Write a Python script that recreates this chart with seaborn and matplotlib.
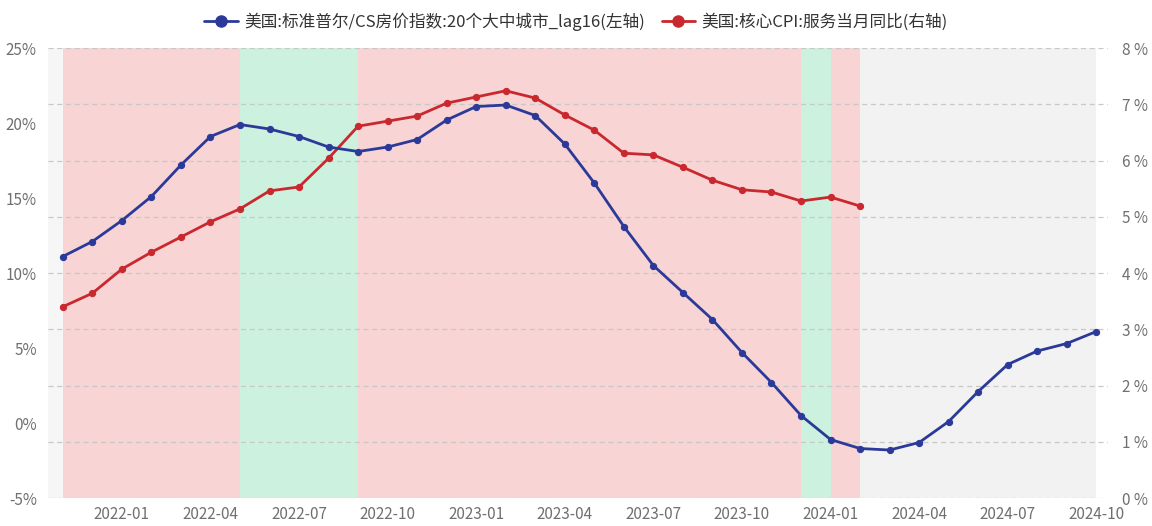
import numpy as np
import pandas as pd
import matplotlib.pyplot as plt
import seaborn as sns

# monthly data, 2021-11 .. 2024-10
months = pd.period_range("2021-11", "2024-10", freq="M").strftime("%Y-%m").tolist()

cs_index_lag16 = [11.1, 12.1, 13.5, 15.1, 17.2, 19.1, 19.9, 19.6, 19.1, 18.4, 18.1, 18.4,
                  18.9, 20.2, 21.1, 21.2, 20.5, 18.6, 16.0, 13.1, 10.5, 8.7, 6.9, 4.7,
                  2.7, 0.5, -1.1, -1.7, -1.8, -1.3, 0.1, 2.1, 3.9, 4.8, 5.3, 6.1]

core_cpi_services = [3.40, 3.64, 4.07, 4.37, 4.64, 4.91, 5.14, 5.46, 5.53, 6.04, 6.61, 6.70,
                     6.79, 7.02, 7.13, 7.24, 7.11, 6.81, 6.54, 6.13, 6.10, 5.88, 5.65, 5.48,
                     5.44, 5.28, 5.35, 5.19]

# shaded regimes: (start month, end month, kind)
regimes = [("2021-11", "2022-05", "up"), ("2022-05", "2022-09", "down"),
           ("2022-09", "2023-12", "up"), ("2023-12", "2024-01", "down"),
           ("2024-01", "2024-02", "up"), ("2024-02", "2024-10", "none")]
regime_colors = {"up": "#f8d4d5", "down": "#ccf2df", "none": "#f2f2f2"}

tick_months = ["2022-01", "2022-04", "2022-07", "2022-10", "2023-01", "2023-04",
               "2023-07", "2023-10", "2024-01", "2024-04", "2024-07", "2024-10"]

left_label = "美国:标准普尔/CS房价指数:20个大中城市_lag16(左轴)"
right_label = "美国:核心CPI:服务当月同比(右轴)"

sns.set_style("white")
plt.rcParams["font.family"] = ["Noto Sans CJK SC", "DejaVu Sans"]

idx = {m: i for i, m in enumerate(months)}
df1 = pd.DataFrame({"x": range(len(cs_index_lag16)), "y": cs_index_lag16})
df2 = pd.DataFrame({"x": range(len(core_cpi_services)), "y": core_cpi_services})

blue = "#2b3a98"
red = "#c9282e"
grey_text = "#707070"

fig = plt.figure(figsize=(11.52, 5.26), dpi=100)
ax = fig.add_axes([0.0417, 0.0532, 0.9202, 0.8555])
ax2 = ax.twinx()

ax.axvspan(-0.5, 0, color="#f6f6f6", lw=0, zorder=0)
for start, end, kind in regimes:
    ax.axvspan(idx[start], idx[end], color=regime_colors[kind], lw=0, zorder=0)

# grid comes from the right axis
for v in range(0, 9):
    ax2.axhline(v, color="#c8c8c8", lw=0.9, ls=(0, (4, 3)), zorder=1)

# blue series belongs to the left axis, drawn on ax2 so it sits above the spans
sns.lineplot(data=df1, x="x", y="y", ax=ax2, color=blue, lw=2, marker="o",
             markersize=4.5, markeredgecolor=blue, zorder=5, legend=False,
             transform=ax.transData)
sns.lineplot(data=df2, x="x", y="y", ax=ax2, color=red, lw=2, marker="o",
             markersize=4.5, markeredgecolor=red, zorder=4, legend=False)

ax.set_ylim(-5, 25)
ax2.set_ylim(0, 8)
ax.set_xlim(-0.5, 35.4)

ax.set_yticks(range(-5, 26, 5))
ax.set_yticklabels([f"{v}%" for v in range(-5, 26, 5)])
ax2.set_yticks(range(0, 9))
ax2.set_yticklabels([f"{v} %" for v in range(0, 9)])
ax.set_xticks([idx[m] for m in tick_months])
ax.set_xticklabels(tick_months)

for a in (ax, ax2):
    a.tick_params(length=0, labelsize=11, labelcolor=grey_text, pad=6)
    a.set_xlabel("")
    a.set_ylabel("")
    for s in a.spines.values():
        s.set_visible(False)
ax.tick_params(axis="y", pad=8)
ax2.tick_params(axis="y", pad=10)

handles = [plt.Line2D([], [], color=blue, lw=2, marker="o", markersize=8),
           plt.Line2D([], [], color=red, lw=2, marker="o", markersize=8)]
fig.legend(handles, [left_label, right_label], loc="upper center",
           bbox_to_anchor=(0.5, 1.005), ncol=2, frameon=False, fontsize=12,
           handlelength=2.0, columnspacing=1.0, handletextpad=0.4,
           labelcolor="#333333")

fig.savefig("out.png", dpi=100)
